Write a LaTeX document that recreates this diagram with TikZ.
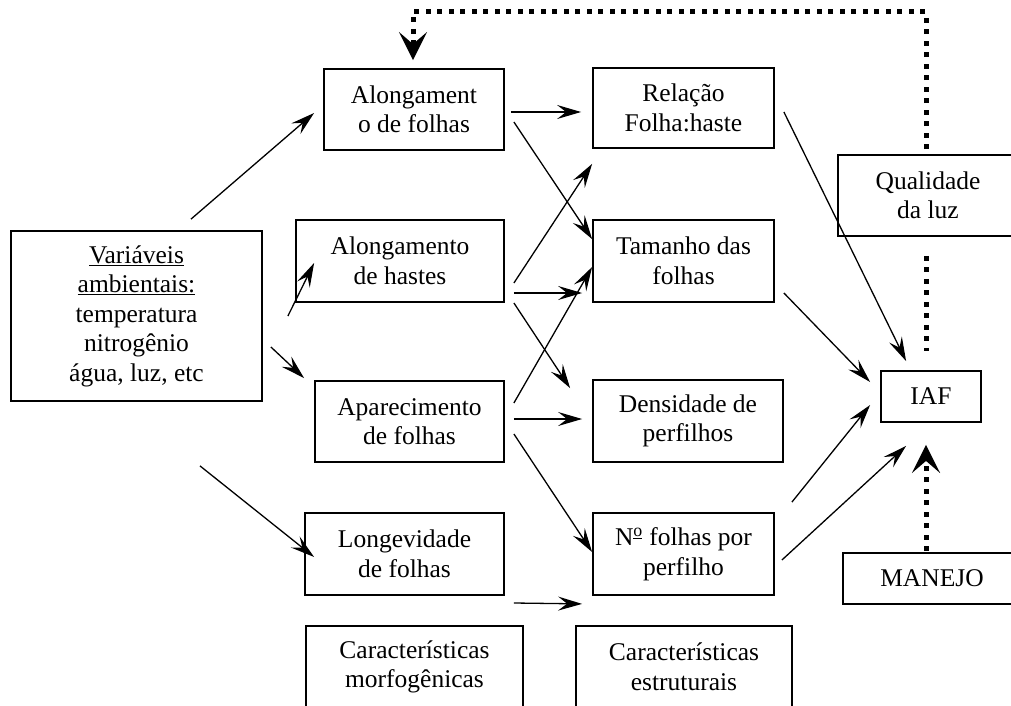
\documentclass[tikz,border=0pt]{standalone}
\usepackage{fontspec}
\setmainfont{Liberation Serif}
\usetikzlibrary{arrows.meta}
\begin{document}
\begin{tikzpicture}[x=1pt,y=-1pt,
  box/.style={draw,line width=1.8pt,rectangle,inner sep=0pt,align=center,
    font=\fontsize{25.5}{29.5}\selectfont},
  arr/.style={line width=1.3pt,-{Stealth[length=24pt,width=14pt,inset=9pt]}},
  dotline/.style={line width=5pt,dash pattern=on 5pt off 6.5pt},
  dotarr/.style={dotline,-{Stealth[length=28pt,width=28pt,inset=12pt]}}]
\clip (0,0) rectangle (1011,706);
% nodes
\node[box,minimum width=251pt,minimum height=170pt] (var) at (136.5,316)
  {\underline{Variáveis}\\\underline{ambientais:}\\temperatura\\nitrogênio\\água, luz, etc};
\node[box,minimum width=180pt,minimum height=81pt] (alf) at (414,109.5) {Alongament\\o de folhas};
\node[box,minimum width=208pt,minimum height=82pt] (alh) at (400,261) {Alongamento\\de hastes};
\node[box,minimum width=189pt,minimum height=81pt] (apa) at (409.5,421.5) {Aparecimento\\de folhas};
\node[box,minimum width=199pt,minimum height=82pt] (lon) at (404.5,554) {Longevidade\\de folhas};
\node[box,minimum width=217pt,minimum height=82pt] (cmo) at (414.5,667) {Características\\morfogênicas};
\node[box,minimum width=181pt,minimum height=80pt] (rel) at (683.5,108) {Relação\\Folha:haste};
\node[box,minimum width=181pt,minimum height=82pt] (tam) at (683.5,261) {Tamanho das\\folhas};
\node[box,minimum width=190pt,minimum height=82pt] (den) at (688,421) {Densidade de\\perfilhos};
\node[box,minimum width=181pt,minimum height=82pt] (nfo) at (683.5,554) {N\textsuperscript{\underline{o}} folhas por\\perfilho};
\node[box,minimum width=216pt,minimum height=82pt] (ces) at (684,667) {Características\\estruturais};
\node[box,minimum width=180pt,minimum height=81pt] (qua) at (928,195.5) {Qualidade\\da luz};
\node[box,minimum width=100pt,minimum height=51pt] (iaf) at (931,396.5) {IAF};
\node[box,minimum width=178pt,minimum height=51pt] (man) at (932,578.5) {MANEJO};
% solid arrows
\draw[arr] ([shift={(54.5,-11)}]var.north) -- ([shift={(-9,3.5)}]alf.west);
\draw[arr] ([shift={(25,0)}]var.east) -- ([shift={(19,2)}]alh.west);
\draw[arr] ([shift={(8,31)}]var.east) -- ([shift={(-10,-2)}]apa.north west);
\draw[arr] ([shift={(63.5,64)}]var.south) -- ([shift={(10,3)}]lon.west);
\draw[arr] ([shift={(6,2.5)}]alf.east) -- ([shift={(-11,4)}]rel.west);
\draw[arr] ([shift={(9,12.5)}]alf.east) -- ([shift={(0,20)}]tam.north west);
\draw[arr] ([shift={(9,22)}]alh.east) -- ([shift={(0,15)}]rel.south west);
\draw[arr] ([shift={(9,32)}]alh.east) -- ([shift={(-10,32)}]tam.west);
\draw[arr] ([shift={(9,42)}]alh.east) -- ([shift={(-22,9)}]den.north west);
\draw[arr] ([shift={(9,-18.5)}]apa.east) -- ([shift={(0,6)}]tam.west);
\draw[arr] ([shift={(9,-2.5)}]apa.east) -- ([shift={(-10,-2)}]den.west);
\draw[arr] ([shift={(9,12.5)}]apa.east) -- ([shift={(0,-2)}]nfo.west);
\coordinate (lonend) at ([shift={(-10,8)}]nfo.south west);
\draw[arr] ([shift={(9,49)}]lon.east) -- (lonend);
\draw[arr] ([shift={(9,4)}]rel.east) -- ([shift={(26,-9)}]iaf.north west);
\draw[arr] ([shift={(9,32)}]tam.east) -- ([shift={(-10,-14.5)}]iaf.west);
\draw[arr] ([shift={(17,-10)}]nfo.north east) -- ([shift={(-10,8.5)}]iaf.west);
\draw[arr] ([shift={(7,6)}]nfo.east) -- ([shift={(26,23)}]iaf.south west);
% dotted connectors
\coordinate (toprow) at (0,12);
\coordinate (q1) at ([shift={(-2,-5)}]qua.north);
\draw[dotarr] (q1) -- (q1 |- toprow) -| ([shift={(-1,-8)}]alf.north);
\draw[dotline] ([shift={(-2,19)}]qua.south) -- ([shift={(-5,-19)}]iaf.north);
\draw[dotarr] ([shift={(-6,-1)}]man.north) -- ([shift={(-5,22)}]iaf.south);
\end{tikzpicture}
\end{document}
